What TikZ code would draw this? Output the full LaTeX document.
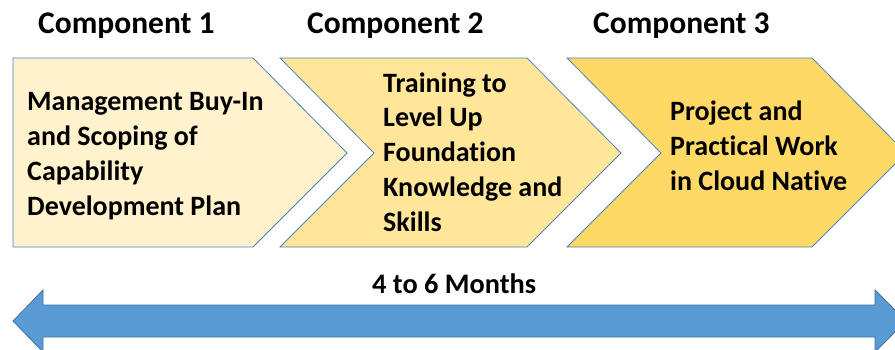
\documentclass[tikz,border=0pt]{standalone}
\usepackage{fontspec}
\setmainfont[Ligatures={NoCommon}]{Carlito}
\definecolor{edgeblue}{HTML}{4F81BD}
\definecolor{fillA}{HTML}{FFF2CC}
\definecolor{fillB}{HTML}{FFE699}
\definecolor{fillC}{HTML}{FFD966}
\definecolor{arrowfill}{HTML}{5B9BD5}
\definecolor{arrowedge}{HTML}{41719C}
\begin{document}
\begin{tikzpicture}[x=1pt,y=-1pt,
  chev/.style={draw=edgeblue,line width=0.8pt,line join=miter},
  head/.style={font=\fontsize{31.5}{36}\selectfont\bfseries,inner sep=0pt,anchor=base west},
  body/.style={font=\fontsize{28}{34.7}\selectfont\bfseries,inner sep=0pt,anchor=base west,align=left},
  span/.style={font=\fontsize{28.3}{32}\selectfont\bfseries,inner sep=0pt,anchor=base west}]
\useasboundingbox (0,0) rectangle (895,349);
\clip (0,0) rectangle (895,349);
\fill[white] (0,0) rectangle (895,349);
% chevrons
\draw[chev,fill=fillA] (13,58) -- (253,58) -- (347,153) -- (253,247) -- (13,247) -- cycle;
\draw[chev,fill=fillB] (280,58) -- (527,58) -- (621,153) -- (527,247) -- (280,247) -- (374,153) -- cycle;
\draw[chev,fill=fillC] (567,58) -- (812,58) -- (906,153) -- (812,247) -- (567,247) -- (661,153) -- cycle;
% headers
\node[head] (h1) at (38,33) {Component 1};
\node[head] (h2) at (307,33) {Component 2};
\node[head] (h3) at (593,33) {Component 3};
% body texts (anchor = baseline of last line)
\node[body] (t1) at (27,215) {Management Buy-In\\and Scoping of\\Capability\\Development Plan};
\node[body] (t2) at (383,231) {Training to\\Level Up\\Foundation\\Knowledge and\\Skills};
\node[body] (t3) at (670,190) {Project and\\Practical Work\\in Cloud Native};
% duration
\node[span] (d) at (372,293) {4 to 6 Months};
\draw[draw=arrowedge,line width=0.8pt,fill=arrowfill]
  (13,321) -- (43,290) -- (43,305) -- (875,305) -- (875,290) -- (906,321)
  -- (875,352) -- (875,337) -- (43,337) -- (43,352) -- cycle;
\end{tikzpicture}
\end{document}
